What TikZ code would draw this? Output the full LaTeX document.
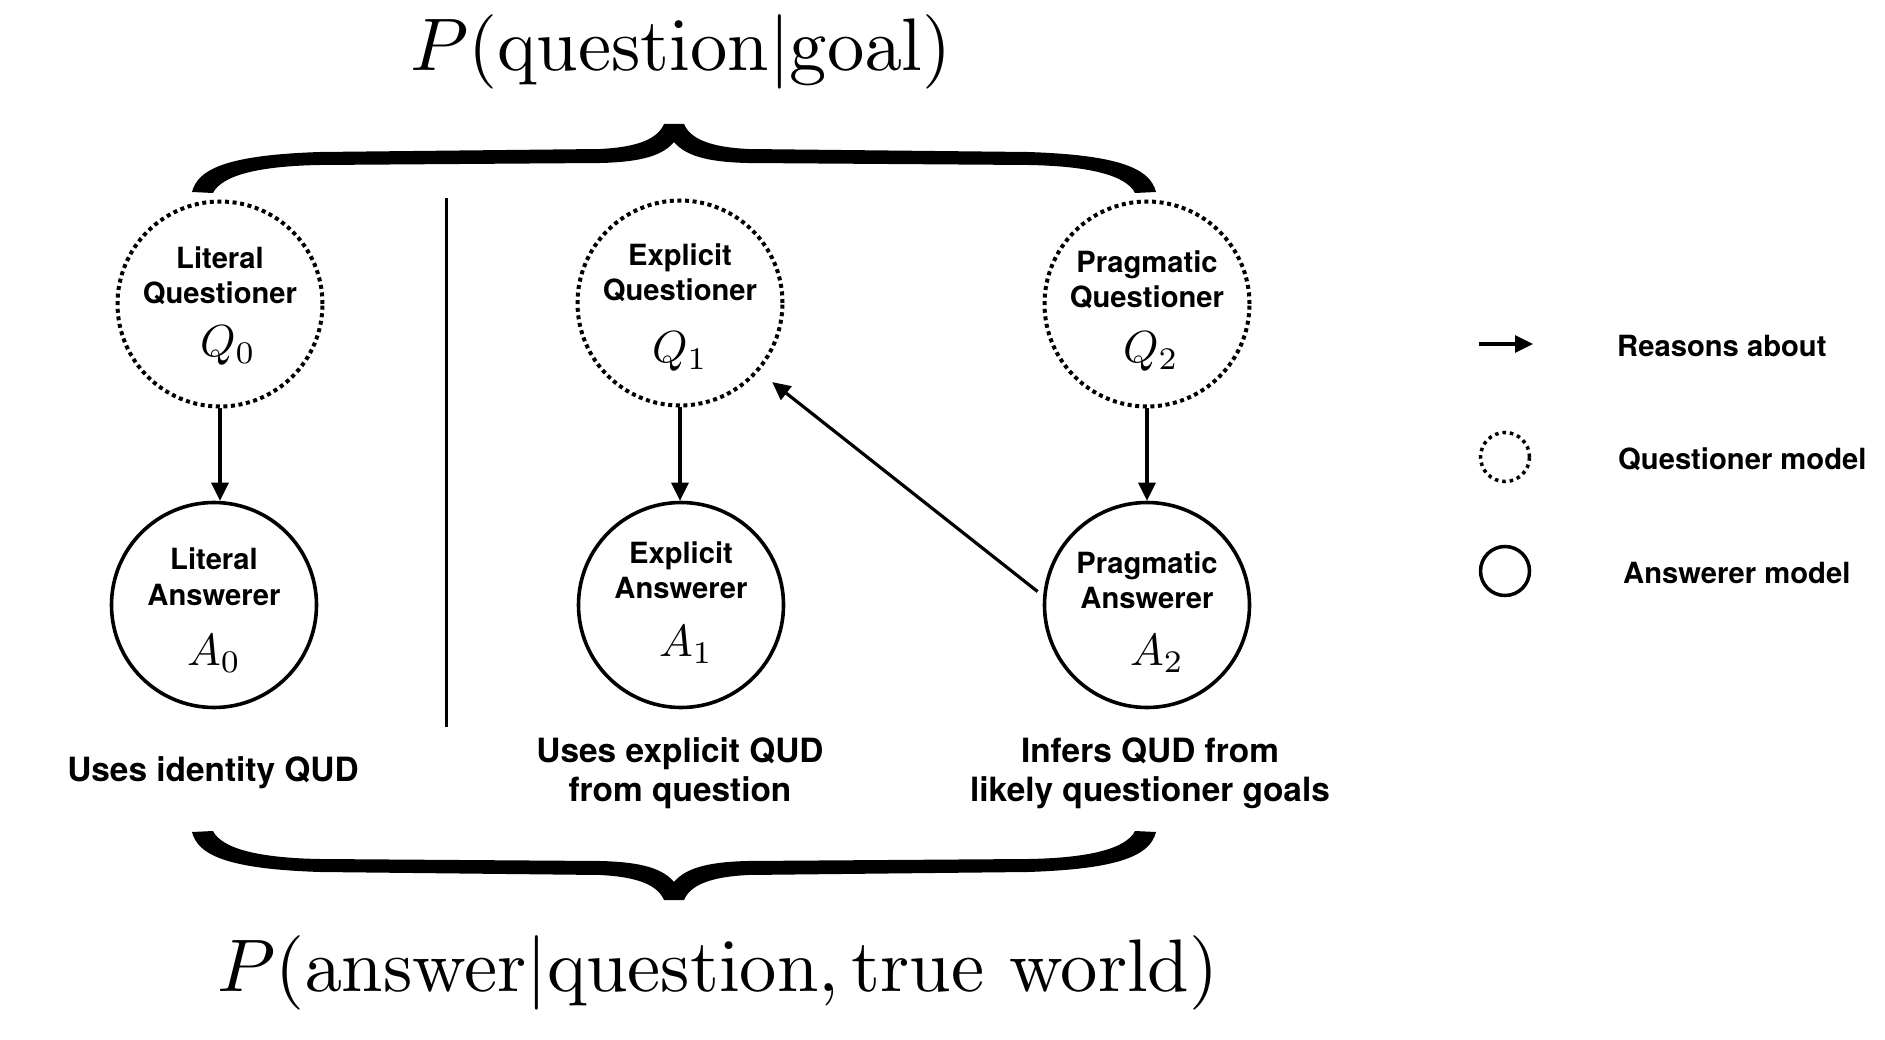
\RequirePackage{fix-cm}
\documentclass[tikz,border=0pt]{standalone}
\usepackage{graphicx}
\usepackage[no-math]{fontspec}
\newfontfamily\hv{TeX Gyre Heros}
\usetikzlibrary{arrows.meta}
\newcommand\lblfont{\hv\bfseries\fontsize{29.2}{35}\selectfont}
\newcommand\desfont{\hv\bfseries\fontsize{33.4}{40}\selectfont}
% #1 line1  #2 line2  #3 math  #4 raise1  #5 raise2  #6 raise math  #7 twice math x-offset
\newcommand\circtxt[7]{%
  \makebox[0pt]{\raisebox{#4}{#1}}%
  \makebox[0pt]{\raisebox{#5}{#2}}%
  \makebox[0pt]{\hspace*{#7}\raisebox{#6}{\scalebox{4.5}{\fontsize{10}{12}\selectfont$#3$}}}}
\newcommand\twolines[3]{%
  \makebox[0pt]{#1}\makebox[0pt]{\raisebox{-#3}{#2}}}
\newcommand\bracepath{(192,192) .. controls (198,168) and (230,155) .. (320,152)
  -- (600,149) .. controls (640,147) and (658,138) .. (664,124)
  -- (684,124) .. controls (690,138) and (708,147) .. (748,149)
  -- (1028,152) .. controls (1118,155) and (1150,168) .. (1156,192)
  -- (1135,193) .. controls (1126,175) and (1088,166) .. (1028,165)
  -- (748,163) .. controls (705,162) and (685,155) .. (674,142)
  .. controls (663,155) and (643,162) .. (600,163)
  -- (320,165) .. controls (260,166) and (222,175) .. (213,193) -- cycle}
\begin{document}
\begin{tikzpicture}[x=1pt,y=-1pt,
  qnode/.style={circle, draw, line width=4pt, dash pattern=on 4pt off 3.6pt,
    minimum size=205pt, inner sep=0pt, text height=0pt, text depth=0pt, font=\lblfont},
  anode/.style={circle, draw, line width=3.6pt,
    minimum size=205pt, inner sep=0pt, text height=0pt, text depth=0pt, font=\lblfont},
  arr/.style={-{Triangle[length=18pt,width=17pt]}, line width=3.2pt},
  lbl/.style={font=\lblfont, inner sep=0pt},
  dlbl/.style={font=\desfont, inner sep=0pt},
  zlbl/.style={font=\desfont, inner sep=0pt, text height=0pt, text depth=0pt},
  bigmath/.style={font=\fontsize{10}{12}\selectfont, inner sep=0pt}]
\useasboundingbox (0,0) rectangle (1885,1040);

% braces
\fill[black] \bracepath;
\begin{scope}[shift={(0,1024)}, yscale=-1]
  \fill[black] \bracepath;
\end{scope}

% formulas
\node[bigmath] (top) at (681,52) {\scalebox{7.45}{$P(\mathrm{question}|\mathrm{goal})$}};
\node[bigmath] (bot) at (718,973) {\scalebox{7.45}{$P(\mathrm{answer}|\mathrm{question}, \mathrm{true\ world})$}};

% models
\node[qnode] (Q0) at (220,304) {\circtxt{Literal}{Questioner}{Q_0}{35.5pt}{0pt}{-53pt}{16pt}};
\node[anode] (A0) at (214,605) {\circtxt{Literal}{Answerer}{A_0}{35.5pt}{0pt}{-60.5pt}{0pt}};
\node[qnode] (Q1) at (680,303) {\circtxt{Explicit}{Questioner}{Q_1}{37.5pt}{2.5pt}{-60pt}{0pt}};
\node[anode] (A1) at (681,605) {\circtxt{Explicit}{Answerer}{A_1}{41.7pt}{6.7pt}{-51.7pt}{10pt}};
\node[qnode] (Q2) at (1147,304) {\circtxt{Pragmatic}{Questioner}{Q_2}{31.5pt}{-3.5pt}{-58.5pt}{8pt}};
\node[anode] (A2) at (1147,605) {\circtxt{Pragmatic}{Answerer}{A_2}{31.5pt}{-3.5pt}{-60.5pt}{20pt}};

% arrows
\draw[arr] (Q0.south) -- (Q0.south |- A0.north);
\draw[arr] (Q1.south) -- (Q1.south |- A1.north);
\draw[arr] (Q2.south) -- (Q2.south |- A2.north);
\draw[arr, shorten <=7pt, shorten >=17pt] (A2.175) -- (Q1.-41);

% divider
\coordinate (d1) at (446,198);
\coordinate (d2) at (446,727);
\draw[line width=3pt] (d1) -- (d2);

% descriptions
\node[dlbl, anchor=base] (L0) at (213,781) {Uses identity QUD};
\node[zlbl] (L1) at (680,762.5) {\twolines{Uses explicit QUD}{from question}{39pt}};
\node[zlbl] (L2) at (1150,762.5) {\twolines{Infers QUD from}{likely questioner goals}{39pt}};

% legend
\coordinate (la1) at (1479,344);
\coordinate (la2) at (1533,344);
\draw[arr] (la1) -- (la2);
\node[lbl, anchor=base west] (t1) at (1617,357) {Reasons about};
\node[circle, draw, line width=3.5pt, dash pattern=on 3.5pt off 4pt, minimum size=49pt, inner sep=0pt] (lq) at (1505,457) {};
\node[lbl, anchor=base west] (t2) at (1618,469) {Questioner model};
\node[circle, draw, line width=3.5pt, minimum size=49pt, inner sep=0pt] (la) at (1505,571) {};
\node[lbl, anchor=base west] (t3) at (1623,583) {Answerer model};
\end{tikzpicture}
\end{document}
